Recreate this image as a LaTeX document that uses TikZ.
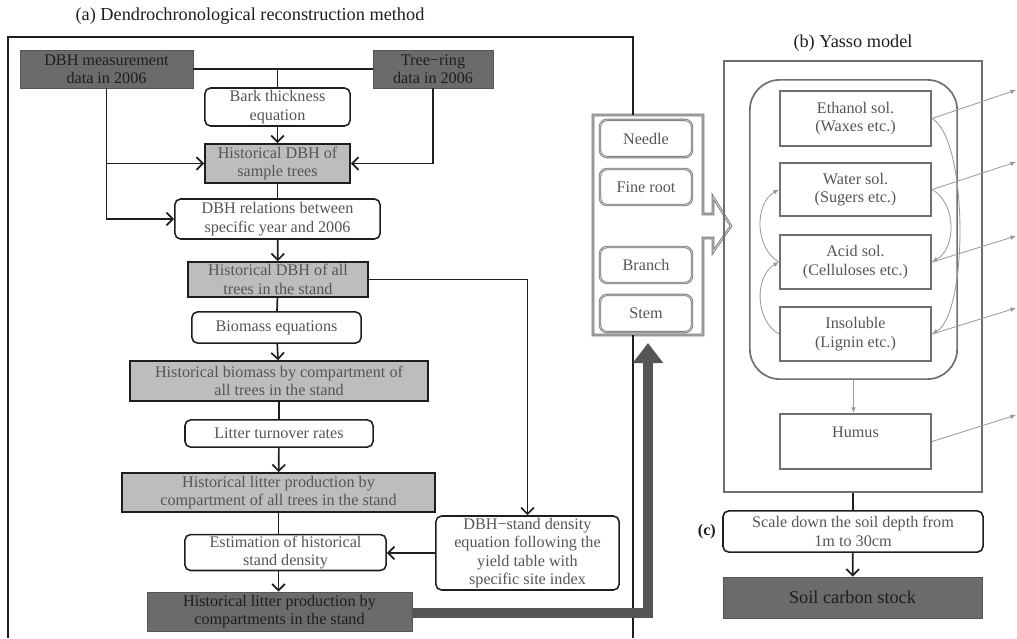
\documentclass[tikz,border=0pt]{standalone}
\usepackage{fontspec}
\setmainfont{Liberation Serif}
\usepackage{tikz}
\usetikzlibrary{arrows.meta,positioning,calc}
\definecolor{ink}{HTML}{1E1E1E}
\definecolor{inkgray}{HTML}{555555}
\definecolor{darkfill}{HTML}{6B6B6B}
\definecolor{litefill}{HTML}{BDBDBD}
\definecolor{poolline}{HTML}{707070}
\definecolor{partline}{HTML}{7A7A7A}
\definecolor{partmid}{HTML}{D4D4D4}
\definecolor{flowgray}{HTML}{9A9A9A}
\definecolor{bandgray}{HTML}{555555}
\tikzset{
  datbox/.style={rectangle, fill=darkfill, draw=inkgray, text=ink, align=center, inner sep=1pt},
  histbox/.style={rectangle, fill=litefill, draw=ink, line width=1.1pt, text=inkgray, align=center, inner sep=1pt},
  eqbox/.style={rectangle, rounded corners=4pt, draw=ink, line width=1.1pt, fill=white, text=inkgray, align=center, inner sep=1pt},
  partbox/.style={rectangle, rounded corners=5pt, draw=partline, double=partmid, double distance=0.5pt, line width=0.6pt, text=inkgray, align=center, minimum width=2.3cm},
  poolbox/.style={rectangle, draw=poolline, line width=1.4pt, text=inkgray, align=center, minimum width=3.78cm, inner sep=1pt},
  title/.style={font=\fontsize{13}{15}\selectfont, text=ink},
  link/.style={line width=1.2pt, draw=ink},
  arrow/.style={-{Straight Barb[length=1.6mm,width=3.2mm]}, line width=1.2pt, draw=ink},
  flow/.style={-{Latex[length=1.4mm,width=1.2mm]}, draw=flowgray, line width=0.6pt},
  bigarrow/.style={-{Triangle[length=5mm,width=7.3mm]}, line width=7pt, draw=bandgray}
}
\begin{document}
\begin{tikzpicture}[x=0.025cm, y=-0.025cm, font=\fontsize{11.5}{13}\selectfont]
  \useasboundingbox (0,0) rectangle (1017,638);

  % (a) reconstruction
  \node[title] (ttla) at (250,16) {(a) Dendrochronological reconstruction method};
  \node[datbox, minimum width=4.33cm, minimum height=0.95cm] (dbh) at (106.5,69) {DBH measurement\\data in 2006};
  \node[datbox, minimum width=3.0cm, minimum height=0.95cm] (ring) at (433,69) {Tree−ring\\data in 2006};
  \node[eqbox, minimum width=3.63cm, minimum height=0.95cm] (bark) at (277.5,107) {Bark thickness\\equation};
  \node[histbox, minimum width=3.63cm, minimum height=0.98cm] (hsample) at (277.5,163.5) {Historical DBH of\\sample trees};
  \node[eqbox, minimum width=5.13cm, minimum height=1.0cm] (rel) at (277.5,219) {DBH relations between\\specific year and 2006};
  \node[histbox, minimum width=4.5cm, minimum height=0.88cm] (hall) at (278,279.5) {Historical DBH of all\\trees in the stand};
  \node[eqbox, minimum width=4.23cm, minimum height=0.78cm] (biomass) at (276.5,327.5) {Biomass equations};
  \node[histbox, minimum width=7.45cm, minimum height=1.0cm] (hbio) at (279,381) {Historical biomass by compartment of\\all trees in the stand};
  \node[eqbox, minimum width=4.7cm, minimum height=0.68cm] (turn) at (279,433.5) {Litter turnover rates};
  \node[histbox, minimum width=7.83cm, minimum height=0.98cm] (hlit) at (278.5,492.5) {Historical litter production by\\compartment of all trees in the stand};
  \node[eqbox, minimum width=5.03cm, minimum height=0.88cm] (est) at (285.5,552.5) {Estimation of historical\\stand density};
  \node[eqbox, minimum width=4.58cm, minimum height=1.85cm] (dens) at (527.5,553) {DBH−stand density\\equation following the\\yield table with\\specific site index};
  \node[datbox, minimum width=6.63cm, minimum height=0.98cm] (hout) at (279.5,611.5) {Historical litter production by\\compartments in the stand};

  % compartments
  \node[partbox, minimum height=0.93cm] (needle) at (646,138.5) {Needle};
  \node[partbox, minimum height=0.9cm] (fine) at (646,187) {Fine root};
  \node[partbox, minimum height=0.9cm] (branch) at (646,265) {Branch};
  \node[partbox, minimum height=0.93cm] (stem) at (646,313.5) {Stem};
  \draw[draw=partline, double=partmid, double distance=0.6pt, line width=0.6pt]
    (593,115) -- (703,115) -- (703,214) -- (713,214) -- (713,197) -- (731,226)
    -- (713,252) -- (713,238) -- (703,238) -- (703,335) -- (593,335) -- cycle;

  % frame of (a)
  \draw[link] (8,638) -- (8,37) -- (633,37) -- (633,115);
  \draw[link] (633,335) -- (633,638);

  \draw[link] (dbh.east) -- (ring.west);
  \draw[link] (bark.north) -- (bark.north |- dbh.east);
  \draw[arrow] (bark) -- (hsample);
  \draw[link] (dbh.south) -- (dbh.south |- hsample.west);
  \draw[arrow] (dbh.south |- hsample.west) -- (hsample.west);
  \draw[arrow] (dbh.south |- hsample.west) |- (rel.west);
  \draw[arrow] (ring.south) |- (hsample.east);
  \draw[link] (hsample) -- (rel);
  \draw[arrow] (rel) -- (hall);
  \draw[link] (hall) -- (biomass);
  \draw[arrow] (biomass) -- (hbio);
  \draw[link] (hbio) -- (turn);
  \draw[arrow] (turn) -- (hlit);
  \draw[link] (hlit.south) -- (hlit.south |- est.north);
  \draw[arrow] (est.south -| hlit.south) -- (hout.north -| hlit.south);
  \draw[arrow] (hall.east) -| (dens.north);
  \draw[arrow] (dens.west) -- (est.east |- dens.west);

  \coordinate (tip) at (648,343);
  \draw[bigarrow] (hout.east |- 0,613) -| (tip);

  % (b) Yasso
  \node[title] (ttlb) at (853,43) {(b) Yasso model};
  \node[rectangle, draw=poolline, line width=1.4pt, minimum width=6.45cm, minimum height=10.78cm] (yasso) at (853,276.5) {};
  \node[rectangle, rounded corners=0.75cm, draw=poolline, line width=1.2pt, minimum width=5.18cm, minimum height=7.48cm] (pools) at (853.5,229.5) {};
  \node[poolbox, minimum height=1.38cm] (eth) at (855.5,118.5) {Ethanol sol.\\(Waxes etc.)};
  \node[poolbox, minimum height=1.33cm] (water) at (855.5,189.5) {Water sol.\\(Sugers etc.)};
  \node[poolbox, minimum height=1.35cm] (acid) at (855.5,262) {Acid sol.\\(Celluloses etc.)};
  \node[poolbox, minimum height=1.35cm] (insol) at (855.5,334) {Insoluble\\(Lignin etc.)};
  \node[poolbox, minimum height=1.38cm] (humus) at (855.5,441.5) {Humus\\\mbox{}};

  \draw[flow] (eth.east) to[out=-30, in=30, looseness=0.5] (insol.east);
  \draw[flow] (water.east) to[out=-30, in=30] (acid.east);
  \draw[flow] (acid.west) to[out=150, in=210] (water.west);
  \draw[flow] (insol.west) to[out=150, in=210] (acid.west);
  \draw[flow] (pools.south) -- (pools.south |- humus.north);

  \coordinate (out1) at (1016,90);
  \coordinate (out2) at (1016,162);
  \coordinate (out3) at (1016,236);
  \coordinate (out4) at (1016,308);
  \coordinate (out5) at (1016,415);
  \draw[flow] (eth.east) -- (out1);
  \draw[flow] (water.east) -- (out2);
  \draw[flow] (acid.east) -- (out3);
  \draw[flow] (insol.east) -- (out4);
  \draw[flow] (humus.east) -- (out5);

  % (c) scaling
  \node[eqbox, minimum width=6.5cm, minimum height=1.03cm] (scale) at (853,531.5) {Scale down the soil depth from\\1m to 30cm};
  \node[font=\fontsize{11.5}{13}\selectfont\bfseries, text=ink, left=1pt of scale] (lblc) {(c)};
  \node[datbox, minimum width=6.48cm, minimum height=1.03cm, font=\fontsize{13}{15}\selectfont] (soil) at (852.5,597.5) {Soil carbon stock};
  \draw[link] (yasso.south -| scale.north) -- (scale.north);
  \draw[arrow] (scale) -- (soil);
\end{tikzpicture}
\end{document}
